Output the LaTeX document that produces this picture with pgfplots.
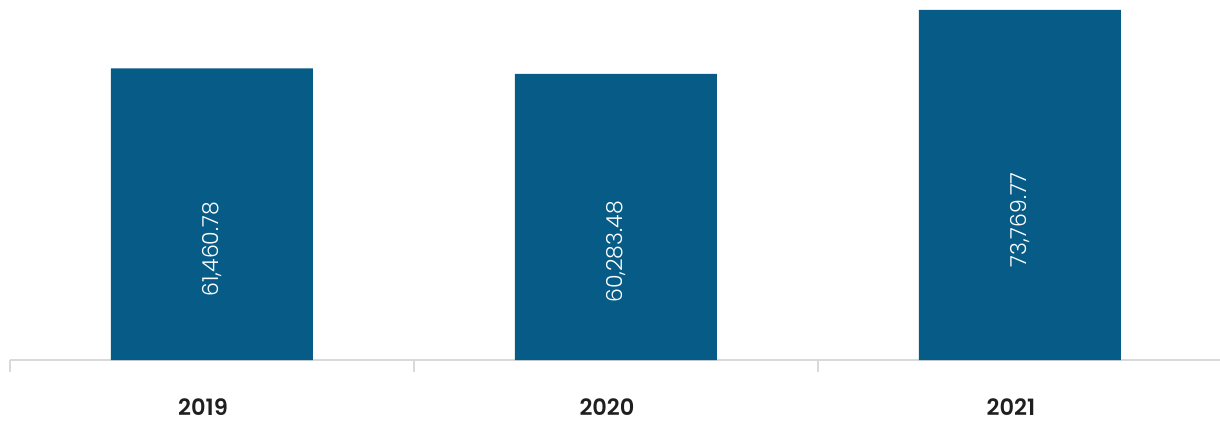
\documentclass[border=0pt]{standalone}
\usepackage{fontspec}
\setmainfont{Poppins}
\newfontfamily\lightfont{Poppins Light}
\newfontfamily\medfont{Poppins SemiBold}
\usepackage{pgfplots}
\usepackage{pgfplotstable}
\pgfplotsset{compat=1.18}
\definecolor{barblue}{RGB}{6,92,135}
\definecolor{axgray}{RGB}{217,217,217}
\pgfplotstableread{
x v
0 61460.78
1 60283.48
2 73769.77
}\datatable
\begin{document}
\begin{tikzpicture}
\begin{axis}[
  name=ax,
  scale only axis,
  width=1212pt, height=360pt,
  xmin=-0.5, xmax=2.5,
  ymin=0, ymax=75877,
  axis x line*=bottom,
  axis y line=none,
  x axis line style={-, draw=axgray, line width=1.2pt},
  xtick={0,1,2},
  xticklabels={2019,2020,2021},
  major tick length=0pt,
  minor xtick={-0.5,0.5,1.5,2.5},
  minor tick length=12pt,
  tick align=outside,
  minor tick style={draw=axgray, line width=1.2pt},
  major tick style={draw=none},
  xticklabel style={font=\medfont\fontsize{22.5}{27}\selectfont, color=black!88, anchor=base, yshift=-55pt, xshift=-9pt},
  clip=false,
]
\addplot[ybar, bar width=202pt, fill=barblue, draw=none] table[x=x, y=v] {\datatable};
\addplot[draw=none, mark=none,
  nodes near coords={\pgfmathprintnumber[fixed, fixed zerofill, precision=2, 1000 sep={,}, assume math mode=true]{\pgfplotspointmeta}},
  point meta=explicit,
  every node near coord/.style={rotate=90, anchor=center, color=white, font=\lightfont\fontsize{22}{26}\selectfont, xshift=-35pt},
] table[x=x, y expr=\thisrow{v}/2, meta=v] {\datatable};
\end{axis}
\pgfresetboundingbox
\path (ax.south west) ++(-10pt,-61pt) rectangle ++(1220pt,421pt);
\end{tikzpicture}
\end{document}
